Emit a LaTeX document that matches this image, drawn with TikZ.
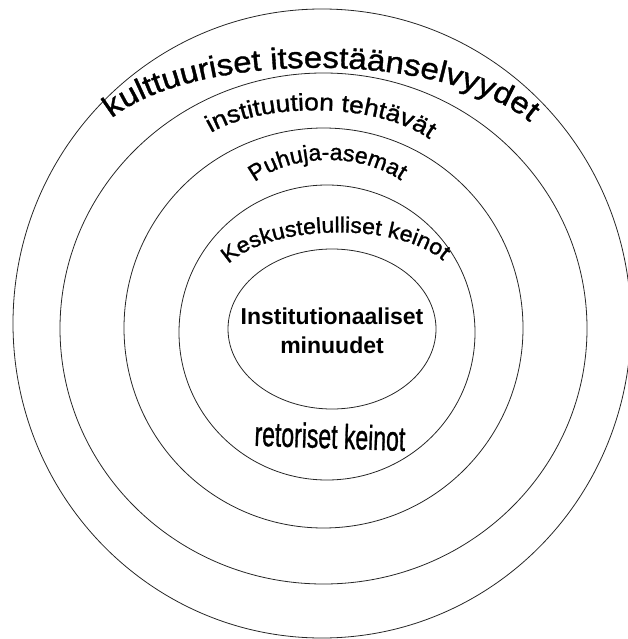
\documentclass[tikz,border=0pt]{standalone}
\usepackage{fontspec}
\setmainfont{Liberation Sans}
\newfontfamily\waA[FakeStretch=1.1,FakeBold=1.2]{Liberation Sans}
\newfontfamily\waB[FakeStretch=1.1,FakeBold=1.2]{Liberation Sans}
\newfontfamily\waC[FakeStretch=1.0,FakeBold=1.2]{Liberation Sans}
\newfontfamily\waD[FakeStretch=1.05,FakeBold=1.2]{Liberation Sans}
\newfontfamily\waE[FakeBold=1.2]{Liberation Sans}
\usetikzlibrary{shapes.geometric,decorations.text}
\tikzset{
  ring/.style={draw=black!85, line width=0.8pt, ellipse, inner sep=0pt, outer sep=0pt},
  arctext/.style={decorate, decoration={text along path, text align=center, text={#1}}}
}
\begin{document}
\begin{tikzpicture}[x=1pt,y=-1pt]
\useasboundingbox (0,0) rectangle (628,639);
% rings
\node[ring, minimum width=618pt, minimum height=629pt] (r1) at (322,323.5) {};
\node[ring, minimum width=527pt, minimum height=511pt] (r2) at (323.5,328.5) {};
\node[ring, minimum width=399pt, minimum height=400pt] (r3) at (323.5,328) {};
\node[ring, minimum width=296pt, minimum height=295pt] (r4) at (327,332.5) {};
\node[ring, minimum width=208pt, minimum height=160pt] (r5) at (332,329) {};
% curved labels
\path[arctext={|\waA\fontsize{30}{30}\selectfont|kulttuuriset itsestäänselvyydet}]
  (96,134) .. controls (165,45) and (475,45) .. (545,138);
\path[arctext={|\waB\fontsize{24}{24}\selectfont|instituution tehtävät}]
  (203,138) .. controls (255,100) and (385,100) .. (437,145);
\path[arctext={|\waC\fontsize{23}{23}\selectfont|Puhuja-asemat}]
  (248,188) .. controls (285,152) and (365,150) .. (408,186);
\path[arctext={|\waD\fontsize{22}{22}\selectfont|Keskustelulliset keinot}]
  (222,272) .. controls (255,222) and (410,218) .. (450,268);
% straight labels
\node[font=\bfseries\fontsize{23}{29}\selectfont, align=center] (core) at (332,331) {Institutionaaliset\\minuudet};
\node[rotate=-2] (ret) at (330,436) {\scalebox{1}[1.5]{\waE\fontsize{23}{23}\selectfont retoriset keinot}};
\end{tikzpicture}
\end{document}
